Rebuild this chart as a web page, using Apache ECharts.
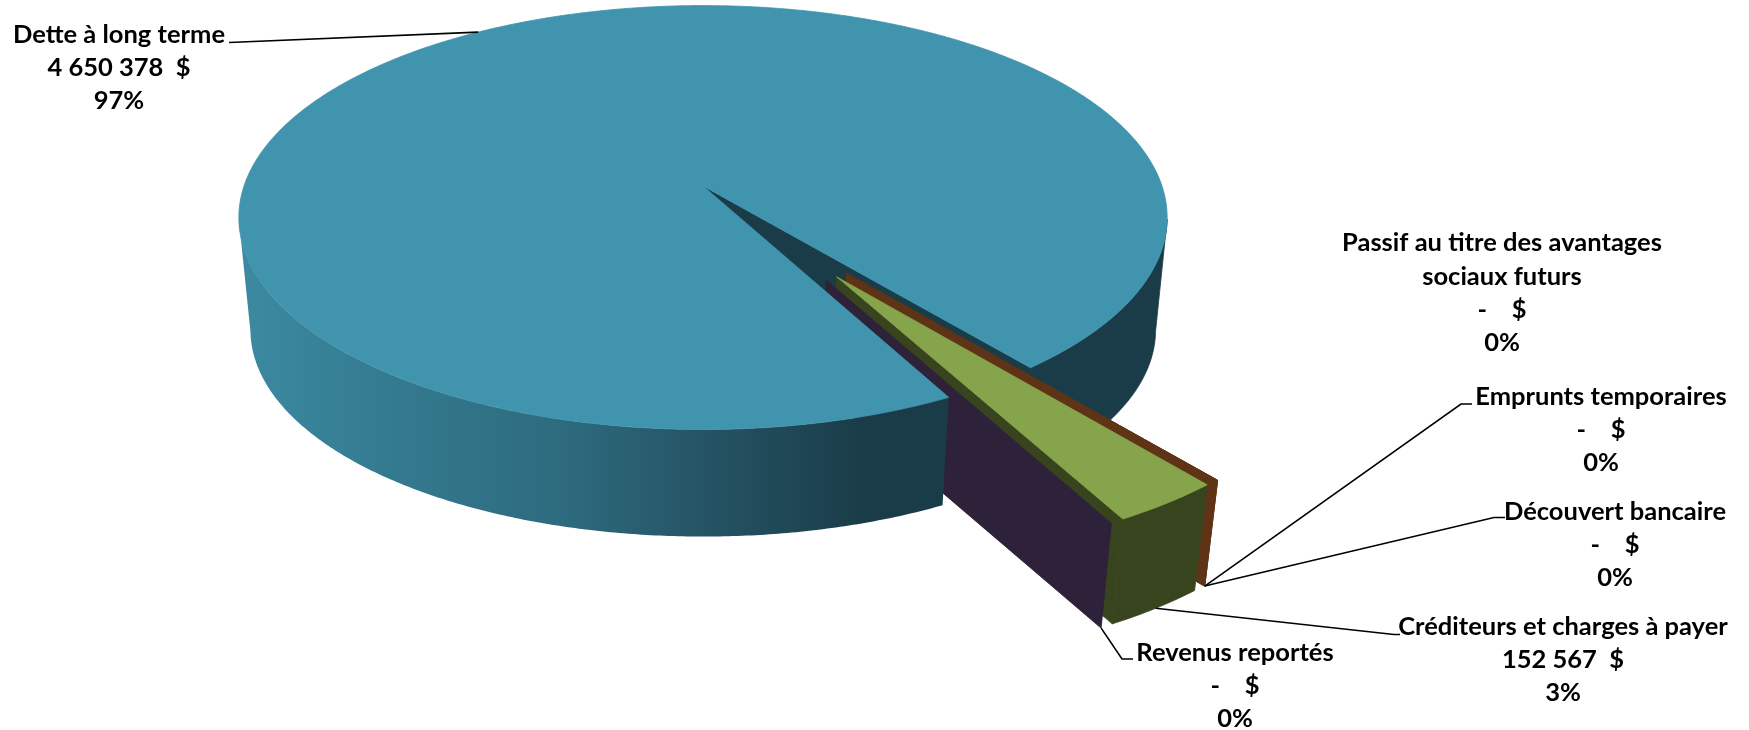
<!DOCTYPE html>
<html lang="fr">
<head>
<meta charset="utf-8">
<style>html,body{margin:0;padding:0;background:#fff}#c{width:1749px;height:730px}</style>
<script src="https://cdn.jsdelivr.net/npm/echarts@6/dist/echarts.min.js"></script>
</head>
<body>
<div id="c"></div>
<script>
// ---- data, in the slices' order of appearance around the pie
const categories = ['Revenus reportés', 'Créditeurs et charges à payer', 'Découvert bancaire', 'Emprunts temporaires', 'Passif au titre des avantages\nsociaux futurs', 'Dette à long terme'];
const values = [0, 152567, 0, 0, 0, 4650378];
const amountLabels = ['-    $', '152 567  $', '-    $', '-    $', '-    $', '4 650 378  $'];
const percentLabels = ['0%', '3%', '0%', '0%', '0%', '97%'];

// ---- styles
const topColors = ['#2d2239', '#86a44b', '#5f3416', '#5f3416', '#5f3416', '#4094ae'];
const sideColors = ['#2d2239', '#38441d', '#5f3416', '#5f3416', '#5f3416', '#1a3c48'];
const frontStops = [[0, '#3c8aa1'], [0.2, '#347b90'], [0.45, '#2e6b7f'], [0.7, '#234f5f'], [0.88, '#1a3c48'], [1, '#1a3c48']];

// ---- layout of the tilted pie: a perspective view of a unit disc
const START_DEG = 27.7, VIEW = { x0: 703, y0: 186, R: 459, a: 179.6, c: 0.1487 };
const BASE = { x: 702.7, y: 217.5, k: 0.975, drop: 112.4 };
const SILHOUETTE_DEG = 81;
const EXPLODE = 0.494, EXPLODE_DIR = [30.6, 33.6, 36.6, 36.6, 36.6, null];
// label centre, leader start (with its short stub) and which slice rim it reaches
const labelBoxes = [
  { x: 1235, y: 686, lead: [[1133, 659], [1122, 659]], at: 'start' },
  { x: 1563, y: 660, lead: [[1400, 634.5], [1394, 634.5]], at: 'mid' },
  { x: 1615, y: 545, lead: [[1505, 517.5], [1494, 517.5]], at: 'start' },
  { x: 1601, y: 430, lead: [[1472, 404], [1461, 404]], at: 'start' },
  { x: 1502, y: 293, lead: null },
  { x: 119, y: 68, lead: [[229, 42.5]], at: 'top' }
];
const FONT = 'bold 25.5px Lato, "Noto Sans", sans-serif', LINE_H = 33.2;

// ---- slice angles derived from the values
const total = values.reduce((s, v) => s + v, 0);
let acc = START_DEG;
const angles = values.map(v => { const s = acc; acc += v / total * 360; return [s, acc]; });

function offsetOf(i) {
  if (EXPLODE_DIR[i] === null) return [0, 0];
  const d = EXPLODE_DIR[i] * Math.PI / 180;
  return [EXPLODE * Math.sin(d), EXPLODE * Math.cos(d)];
}
function project(u, v, base) {
  const w = 1 - VIEW.c * v;
  let x = VIEW.x0 + VIEW.R * u / w;
  let y = (VIEW.a * v + VIEW.y0) / w;
  if (base) {
    x = BASE.x + (x - BASE.x) * BASE.k;
    y = BASE.y + (y - BASE.y) * BASE.k + BASE.drop;
  }
  return [x, y];
}
function rim(i, deg, base) {
  const o = offsetOf(i), t = deg * Math.PI / 180;
  return project(o[0] + Math.sin(t), o[1] + Math.cos(t), base);
}
function apex(i, base) { const o = offsetOf(i); return project(o[0], o[1], base); }
function arc(i, from, to, base) {
  const n = Math.max(2, Math.ceil(Math.abs(to - from) / 0.5)), pts = [];
  for (let k = 0; k <= n; k++) pts.push(rim(i, from + (to - from) * k / n, base));
  return pts;
}
function poly(points, fill, noStroke) {
  return { type: 'polygon', shape: { points }, style: { fill, stroke: noStroke ? null : fill, lineWidth: 0.8, lineJoin: 'round' } };
}
function wall(i, deg, fill) {
  return poly([apex(i, false), rim(i, deg, false), rim(i, deg, true), apex(i, true)], fill);
}
function band(i, from, to, fill, noStroke) {
  return poly(arc(i, from, to, false).concat(arc(i, from, to, true).reverse()), fill, noStroke);
}
function topFace(i, fill) {
  return poly([apex(i, false)].concat(arc(i, angles[i][0], angles[i][1], false)), fill);
}

const MAIN = values.indexOf(Math.max.apply(null, values));

// back parts of the large slice: cut wall and the far-right rim
function drawMainBack(i) {
  const end = angles[i][0];
  return [wall(i, end, sideColors[i]), band(i, end, SILHOUETTE_DEG, sideColors[i])];
}
// exploded slices: wall, outer rim, top
function drawExploded(i) {
  const a = angles[i], out = [];
  out.push(wall(i, a[0], sideColors[i]));
  if (values[i] > 0) {
    out.push(band(i, a[0], a[1], sideColors[i]));
    out.push(topFace(i, topColors[i]));
  }
  return out;
}
// front of the large slice and its top
function drawMainFront(i) {
  const start = angles[i][1] - 360;
  const fill = new echarts.graphic.LinearGradient(0, 0, 1, 0, frontStops.map(s => ({ offset: s[0], color: s[1] })));
  return [band(i, -SILHOUETTE_DEG, start, fill, true), topFace(i, topColors[i])];
}
function drawLabel(i) {
  const b = labelBoxes[i], out = [];
  if (b.lead) {
    const mid = (angles[i][0] + angles[i][1]) / 2;
    const end = b.at === 'top' ? rim(i, mid, false) : rim(i, b.at === 'mid' ? mid : angles[i][0], true);
    out.push({ type: 'polyline', shape: { points: b.lead.concat([end]) }, style: { stroke: '#000', lineWidth: 1.6, fill: null } });
  }
  out.push({
    type: 'text', z2: 5,
    style: {
      text: categories[i] + '\n' + amountLabels[i] + '\n' + percentLabels[i],
      x: b.x, y: b.y, align: 'center', verticalAlign: 'middle',
      font: FONT, lineHeight: LINE_H, fill: '#000'
    }
  });
  return out;
}

function layer(z, indices, draw) {
  return {
    type: 'custom', coordinateSystem: 'none', silent: true, animation: false, z,
    data: indices.map(i => [i]),
    renderItem: (params) => ({ type: 'group', children: draw(indices[params.dataIndex]) })
  };
}

const chart = echarts.init(document.getElementById('c'), null, { renderer: 'canvas' });
chart.setOption({
  backgroundColor: '#fff',
  animation: false,
  series: [
    layer(1, [MAIN], drawMainBack),
    layer(2, [2, 3, 4], drawExploded),
    layer(3, [1], drawExploded),
    layer(4, [0], drawExploded),
    layer(5, [MAIN], drawMainFront),
    layer(6, [0, 1, 2, 3, 4, 5], drawLabel)
  ]
});
</script>
</body>
</html>
